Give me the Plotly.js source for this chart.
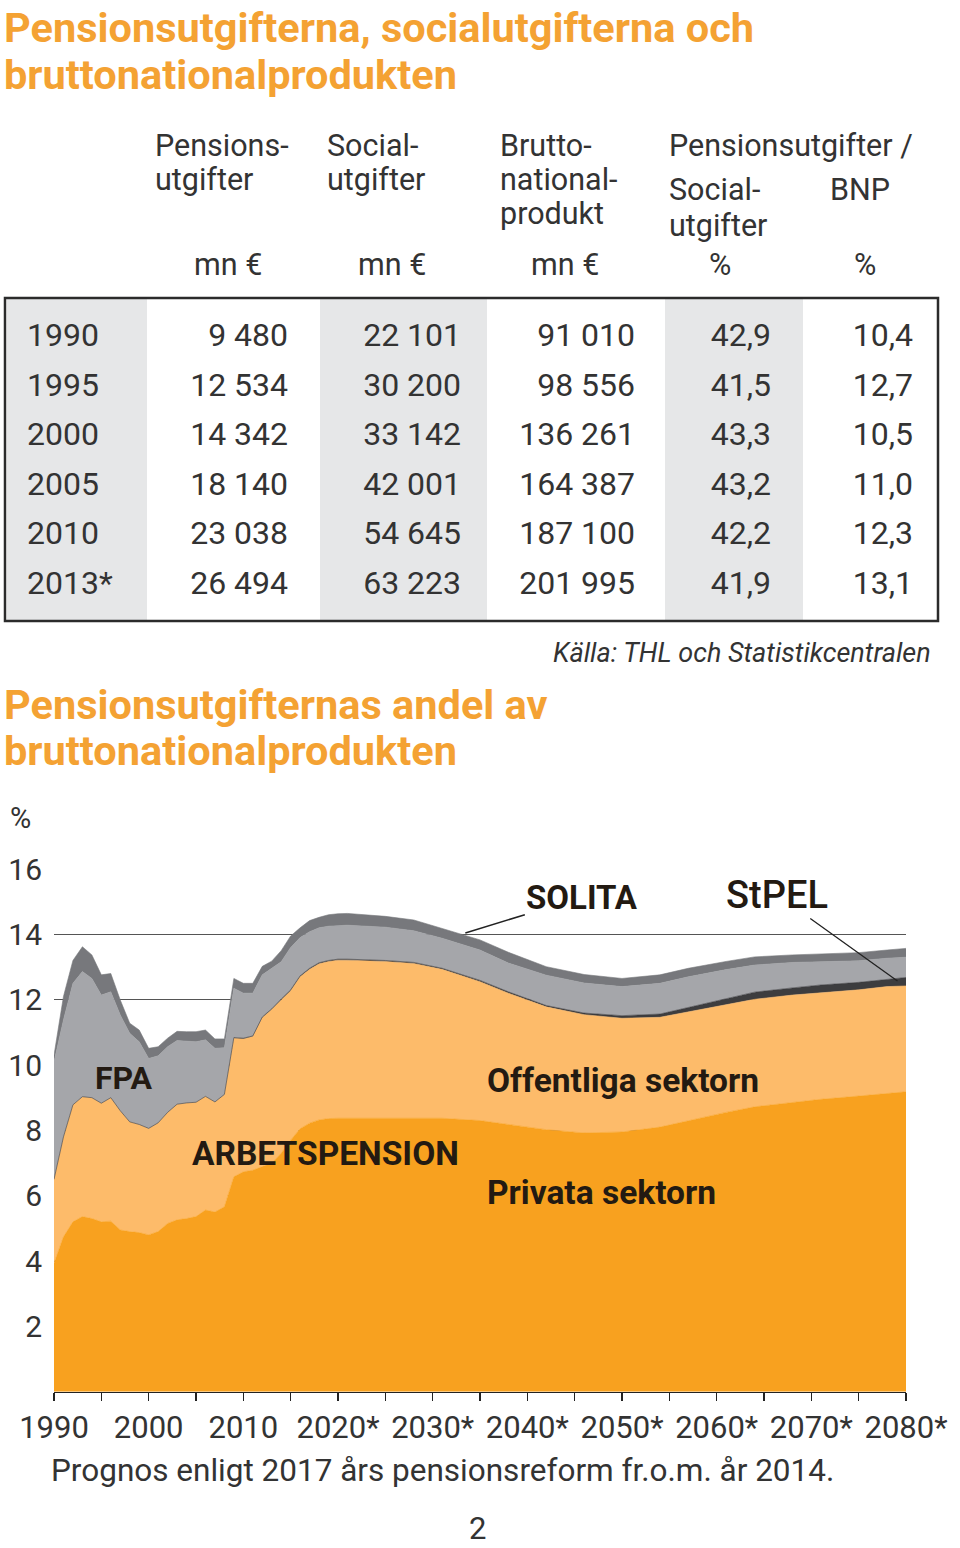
<!DOCTYPE html>
<html><head><meta charset="utf-8">
<script src="https://cdn.plot.ly/plotly-3.0.1.min.js"></script>
<style>html,body{margin:0;padding:0;background:#fff}#chart{width:960px;height:1548px}</style>
</head><body><div id="chart"></div>
<script>
// ---------- Table data ----------
const tableYears = ['1990','1995','2000','2005','2010','2013*'];
const pensionExp = [9480, 12534, 14342, 18140, 23038, 26494];
const socialExp  = [22101, 30200, 33142, 42001, 54645, 63223];
const gdp        = [91010, 98556, 136261, 164387, 187100, 201995];
const shareOfSocial = [42.9, 41.5, 43.3, 43.2, 42.2, 41.9];
const shareOfGdp    = [10.4, 12.7, 10.5, 11.0, 12.3, 13.1];

// ---------- Chart data (% of GDP, stacked layers) ----------
const years = [1990,1991,1992,1993,1994,1995,1996,1997,1998,1999,2000,2001,2002,2003,2004,2005,2006,2007,2008,2009,2010,2011,2012,2013,2014,2015,2016,2017,2018,2019,2020,
               2021,2025,2028,2031,2035,2038,2042,2046,2050,2054,2057,2061,2064,2068,2071,2075,2078,2080];
const privata = [3.93,4.74,5.2,5.36,5.3,5.2,5.22,4.95,4.9,4.87,4.8,4.9,5.15,5.26,5.3,5.36,5.56,5.5,5.66,6.58,6.73,6.78,6.89,6.99,7.3,7.7,8.05,8.22,8.32,8.36,8.37,
                 8.37,8.38,8.38,8.37,8.3,8.18,8.02,7.92,7.95,8.1,8.3,8.55,8.72,8.85,8.95,9.05,9.14,9.18];
const offentliga = [2.57,3.06,3.58,3.67,3.7,3.63,3.78,3.65,3.36,3.31,3.26,3.33,3.4,3.54,3.54,3.5,3.48,3.37,3.44,4.24,4.07,4.09,4.56,4.71,4.69,4.57,4.65,4.71,4.78,4.81,4.84,
                    4.84,4.79,4.73,4.56,4.25,4.02,3.76,3.62,3.48,3.36,3.33,3.3,3.29,3.29,3.26,3.25,3.26,3.24];
const stpel = [0,0,0,0,0,0,0,0,0,0,0,0,0,0,0,0,0,0,0,0.02,0.02,0.02,0.02,0.02,0.03,0.03,0.03,0.03,0.03,0.03,0.03,
               0.03,0.03,0.03,0.03,0.04,0.04,0.04,0.05,0.08,0.1,0.13,0.18,0.22,0.22,0.24,0.23,0.22,0.26];
const fpa = [3.6,3.58,3.72,3.83,3.65,3.31,3.24,2.93,2.71,2.53,2.14,2.05,2.01,1.95,1.89,1.85,1.73,1.64,1.43,1.51,1.38,1.31,1.29,1.24,1.14,1.3,1.17,1.12,1.07,1.05,1.03,
             1.04,1.02,0.97,0.92,0.93,0.88,0.93,0.92,0.89,0.94,0.94,0.89,0.83,0.78,0.71,0.66,0.65,0.62];
const solita = [0.2,0.72,0.7,0.76,0.72,0.62,0.56,0.46,0.31,0.36,0.31,0.28,0.26,0.28,0.29,0.31,0.3,0.29,0.27,0.3,0.3,0.3,0.26,0.22,0.34,0.35,0.3,0.34,0.32,0.35,0.36,
                0.36,0.33,0.33,0.3,0.31,0.33,0.26,0.26,0.25,0.26,0.26,0.25,0.25,0.23,0.24,0.25,0.25,0.27];

// ---------- Axis labels ----------
const xTickVals = [1990,1995,2000,2005,2010,2015,2020,2025,2030,2035,2040,2045,2050,2055,2060,2065,2070,2075,2080];
const xTickText = ['1990','','2000','','2010','','2020*','','2030*','','2040*','','2050*','','2060*','','2070*','','2080*'];
const yTickVals = [2,4,6,8,10,12,14,16];

// ---------- helpers ----------
const W = 960, H = 1548;
const px = x => x / W, py = y => 1 - y / H;
const FONT = 'Roboto, "Open Sans", "DejaVu Sans", sans-serif';
const TXT = '#333333';
const ORANGE = '#F4A233';
const fmtInt = v => String(v).replace(/\B(?=(\d{3})+(?!\d))/g, ' ');
const fmtDec = v => v.toFixed(1).replace('.', ',');

const traces = [];
const layers = [
  {name: 'Privata sektorn', y: privata, color: '#F8A11F'},
  {name: 'Offentliga sektorn', y: offentliga, color: '#FDBB6A'},
  {name: 'StPEL', y: stpel, color: '#3D3D3F'},
  {name: 'FPA', y: fpa, color: '#A5A6AA'},
  {name: 'SOLITA', y: solita, color: '#77787C'}
];
layers.forEach(l => traces.push({
  type: 'scatter', mode: 'lines', x: years, y: l.y, stackgroup: 'pens',
  fillcolor: l.color, line: {width: 0.6, color: l.color}, name: l.name,
  hoverinfo: 'skip', xaxis: 'x', yaxis: 'y'
}));

// table columns as text traces
const tcols = [
  {text: tableYears, x: 27, pos: 'middle right'},
  {text: pensionExp.map(fmtInt), x: 288, pos: 'middle left'},
  {text: socialExp.map(fmtInt), x: 461, pos: 'middle left'},
  {text: gdp.map(fmtInt), x: 635, pos: 'middle left'},
  {text: shareOfSocial.map(fmtDec), x: 771, pos: 'middle left'},
  {text: shareOfGdp.map(fmtDec), x: 913, pos: 'middle left'}
];
tcols.forEach(c => traces.push({
  type: 'scatter', mode: 'text', x: tableYears.map(() => c.x), y: tableYears,
  text: c.text, textposition: c.pos, cliponaxis: false,
  textfont: {family: FONT, size: 32, color: TXT},
  hoverinfo: 'skip', xaxis: 'x2', yaxis: 'y2'
}));

const shapes = [];
[[7,147],[320,487],[665,803]].forEach(([a,b]) => shapes.push({
  type: 'rect', xref: 'paper', yref: 'paper', x0: px(a), x1: px(b), y0: py(299), y1: py(620),
  fillcolor: '#E6E7E8', line: {width: 0}, layer: 'below'
}));
shapes.push({type: 'rect', xref: 'paper', yref: 'paper', x0: px(5), x1: px(938), y0: py(298), y1: py(621),
  line: {color: '#2b2b2b', width: 2.5}, fillcolor: 'rgba(0,0,0,0)'});

const ann = [];
const T = (text, x, y, size, opts = {}) => ann.push(Object.assign({
  text, xref: 'paper', yref: 'paper', x: px(x), y: py(y), xanchor: 'left', yanchor: 'middle',
  showarrow: false, font: {family: FONT, size, color: TXT}
}, opts));

// titles
const TF = {family: FONT, size: 41.5, color: ORANGE};
T('<b>Pensionsutgifterna, socialutgifterna och</b>', 2, 28, 41.5, {font: TF});
T('<b>bruttonationalprodukten</b>', 2, 75, 41.5, {font: TF});
// header
const HS = 30.5;
T('Pensions-', 153, 146, HS); T('utgifter', 153, 180, HS);
T('Social-', 325, 146, HS); T('utgifter', 325, 180, HS);
T('Brutto-', 498, 146, HS); T('national-', 498, 180, HS); T('produkt', 498, 213, HS);
T('Pensionsutgifter /', 667, 146, HS);
T('Social-', 667, 190, HS); T('utgifter', 667, 225, HS);
T('BNP', 828, 190, HS);
[[228,'mn €'],[392,'mn €'],[565,'mn €'],[720,'%'],[865,'%']].forEach(([x,t]) => T(t, x, 265, HS, {xanchor: 'center'}));
// source
T('<i>Källa: THL och Statistikcentralen</i>', 933, 653, 27, {xanchor: 'right'});
// second title
T('<b>Pensionsutgifternas andel av</b>', 2, 705, 41.5, {font: TF});
T('<b>bruttonationalprodukten</b>', 2, 750, 41.5, {font: TF});
// % unit
T('%', 8, 818, 29);
// layer labels
const DARK = '#231a12';
const LF = {family: FONT, size: 33.5, color: DARK};
T('<b>FPA</b>', 93, 1078, 33.5, {font: {family: FONT, size: 32, color: DARK}});
T('<b>ARBETSPENSION</b>', 190, 1153, 33.5, {font: LF});
T('<b>Offentliga sektorn</b>', 485, 1080, 33.5, {font: LF});
T('<b>Privata sektorn</b>', 485, 1192, 33.5, {font: LF});
// pointer labels
ann.push({text: '<b>SOLITA</b>', xref: 'x', yref: 'y', x: 2033.45, y: 14.04, ax: 117, ay: -36,
  showarrow: true, arrowhead: 0, arrowwidth: 1.5, arrowcolor: '#222', standoff: 0,
  font: {family: FONT, size: 33, color: DARK}});
ann.push({text: 'StPEL', xref: 'x', yref: 'y', x: 2079.1, y: 12.57, ax: -120, ay: -86,
  showarrow: true, arrowhead: 0, arrowwidth: 1.3, arrowcolor: '#222', standoff: 0,
  font: {family: FONT, size: 38, color: DARK, weight: 500}});
// footnote + page
T('Prognos enligt 2017 års pensionsreform fr.o.m. år 2014.', 442, 1470, 31.5, {xanchor: 'center'});
T('2', 477, 1528, 31, {xanchor: 'center'});

const layout = {
  width: W, height: H, margin: {l: 0, r: 0, t: 0, b: 0},
  paper_bgcolor: '#fff', plot_bgcolor: 'rgba(0,0,0,0)', showlegend: false,
  font: {family: FONT, color: TXT},
  xaxis: {domain: [px(54), px(906)], range: [1990, 2080], anchor: 'y',
    tickvals: xTickVals, ticktext: xTickText, ticks: 'outside', ticklen: 8, tickwidth: 1.5, tickcolor: '#222',
    showline: true, linecolor: '#222', linewidth: 1.5, showgrid: false, zeroline: false,
    tickfont: {family: FONT, size: 31, color: TXT}, ticklabelstandoff: 0, fixedrange: true},
  yaxis: {domain: [py(1391.7), py(869)], range: [0, 16], anchor: 'x',
    tickvals: yTickVals, showgrid: true, gridcolor: '#555', gridwidth: 1.5, zeroline: false,
    showline: false, ticks: '', tickfont: {family: FONT, size: 30, color: TXT}, ticklabelstandoff: 11, fixedrange: true},
  xaxis2: {domain: [0, 1], range: [0, 960], anchor: 'y2', visible: false, fixedrange: true},
  yaxis2: {domain: [py(621), py(298)], type: 'category', categoryorder: 'array', categoryarray: tableYears,
    range: [5.704, -0.806], anchor: 'x2', visible: false, fixedrange: true},
  shapes, annotations: ann
};

Plotly.newPlot('chart', traces, layout, {staticPlot: true, displayModeBar: false});
</script></body></html>
